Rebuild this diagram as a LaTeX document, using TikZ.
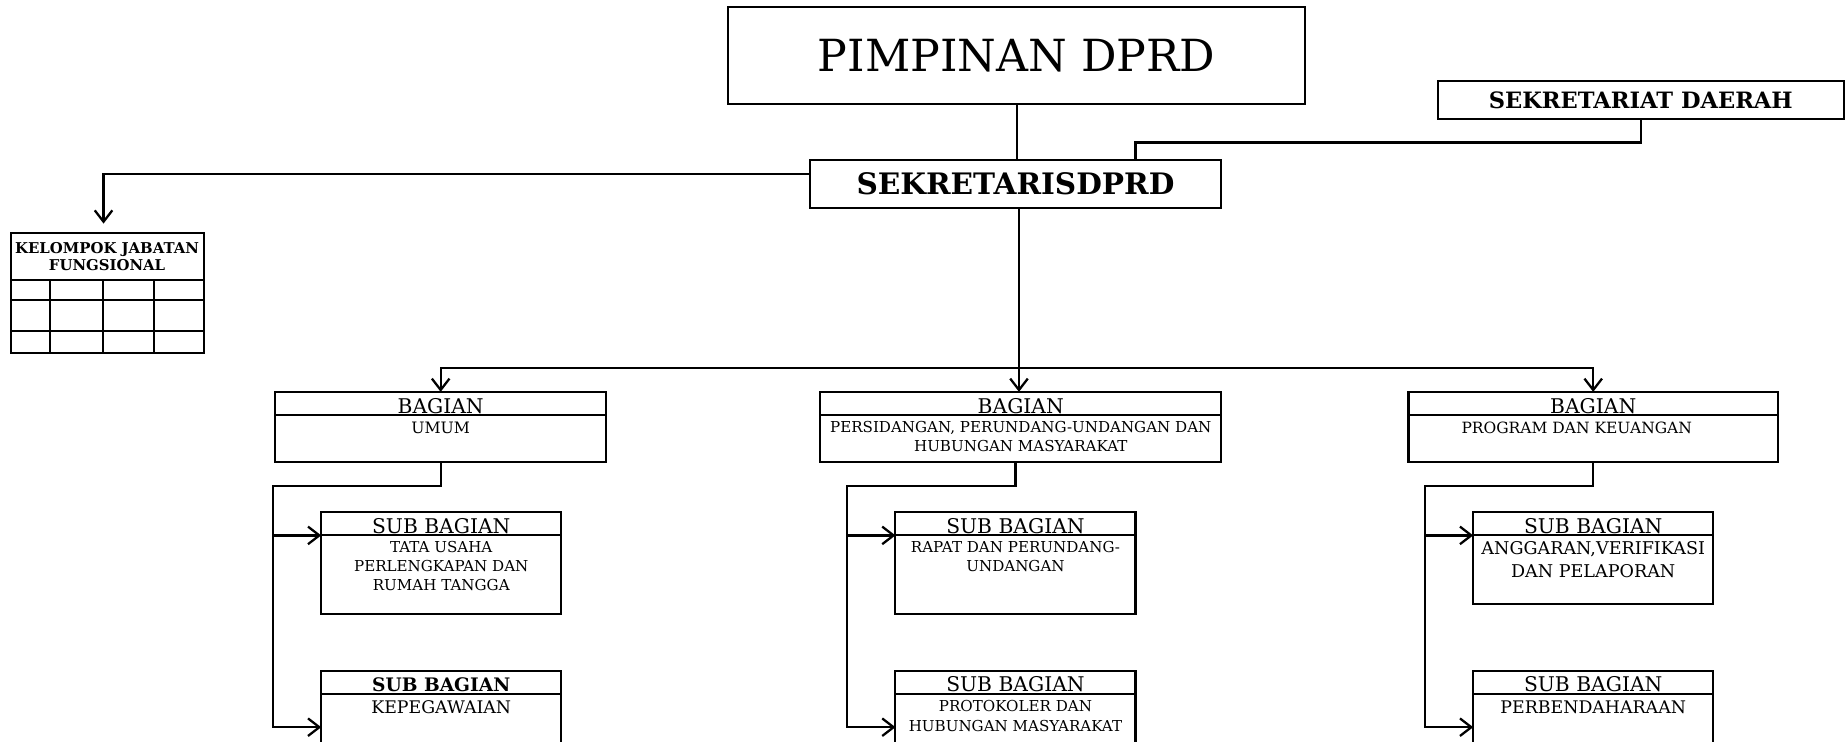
\documentclass[tikz,border=0pt]{standalone}
\usepackage{fontspec}
\setmainfont{DejaVu Serif}
\usetikzlibrary{arrows.meta,positioning}

\begin{document}
\begin{tikzpicture}[
        box/.style={draw, rectangle, line width=1pt, inner sep=0pt, outer sep=0pt},
        hdr/.style={box, minimum height=0.4cm, text height=0.32cm, text depth=0pt, font=\fontsize{9.8}{11}\selectfont},
        bodybox/.style={box, minimum height=#1},
        bodybox/.default=1.34cm,
        txt/.style={align=center, inner sep=0pt, font=\fontsize{7.3}{9.1}\selectfont},
        conn/.style={line width=1.1pt},
        arrow/.style={conn, -{Straight Barb[length=5.5pt,width=8.5pt]}}
    ]
        \useasboundingbox (0,0) rectangle (31.36,-12.6);
        \clip (0,0) rectangle (31.36,-12.6);

        % Pimpinan dan sekretariat
        \node[box, minimum width=9.8cm, minimum height=1.64cm, font=\fontsize{21.4}{24}\selectfont] (pimpinan) at (17.28,-0.94) {PIMPINAN DPRD};
        \node[box, minimum width=7cm, minimum height=0.82cm, font=\bfseries\fontsize{14.3}{16}\selectfont] (sekwan) at (17.26,-3.13) {SEKRETARISDPRD};
        \node[box, minimum width=6.9cm, minimum height=0.64cm, font=\bfseries\fontsize{10.9}{12}\selectfont] (setda) at (27.89,-1.70) {SEKRETARIAT DAERAH};

        % Kelompok jabatan fungsional
        \node[box, minimum width=3.28cm, minimum height=0.8cm, align=center, font=\bfseries\fontsize{7.2}{8.5}\selectfont] (jabfung) at (1.82,-4.36) {KELOMPOK JABATAN\\FUNGSIONAL};
        \draw[line width=1pt] (jabfung.south west) rectangle ++(3.28,-1.24);
        \foreach \y in {0.34,0.86}
            \draw[line width=1pt] (jabfung.south west) ++(0,-\y) -- ++(3.28,0);
        \foreach \x in {0.67,1.57,2.44}
            \draw[line width=1pt] (jabfung.south west) ++(\x,0) -- ++(0,-1.24);

        % Bagian
        \node[hdr, minimum width=5.62cm] (umum) at (7.49,-6.86) {BAGIAN};
        \node[bodybox=0.8cm, minimum width=5.62cm, below=0pt of umum] (umum-b) {};
        \node[txt, font=\fontsize{7.6}{9.1}\selectfont, below=0.1cm of umum-b.north] (umum-t) {UMUM};

        \node[hdr, minimum width=6.82cm] (persid) at (17.35,-6.86) {BAGIAN};
        \node[bodybox=0.8cm, minimum width=6.82cm, below=0pt of persid] (persid-b) {};
        \node[txt, below=0.1cm of persid-b.north] (persid-t) {PERSIDANGAN, PERUNDANG-UNDANGAN DAN\\HUBUNGAN MASYARAKAT};

        \node[hdr, minimum width=6.28cm] (program) at (27.08,-6.86) {BAGIAN};
        \node[bodybox=0.8cm, minimum width=6.28cm, below=0pt of program] (program-b) {};
        \node[txt, font=\fontsize{7.5}{9.1}\selectfont, below=0.1cm of program-b.north, xshift=-0.28cm] (program-t) {PROGRAM DAN KEUANGAN};

        % Sub bagian umum
        \node[hdr, minimum width=4.08cm] (tata) at (7.50,-8.90) {SUB BAGIAN};
        \node[bodybox, minimum width=4.08cm, below=0pt of tata] (tata-b) {};
        \node[txt, below=0.1cm of tata-b.north] (tata-t) {TATA USAHA\\PERLENGKAPAN DAN\\RUMAH TANGGA};

        \node[hdr, minimum width=4.08cm, font=\bfseries\fontsize{9}{11}\selectfont] (pegawai) at (7.50,-11.60) {SUB BAGIAN};
        \node[bodybox, minimum width=4.08cm, below=0pt of pegawai] (pegawai-b) {};
        \node[txt, font=\fontsize{8.4}{10}\selectfont, below=0.1cm of pegawai-b.north] (pegawai-t) {KEPEGAWAIAN};

        % Sub bagian persidangan
        \node[hdr, minimum width=4.08cm] (rapat) at (17.26,-8.90) {SUB BAGIAN};
        \node[bodybox, minimum width=4.08cm, below=0pt of rapat] (rapat-b) {};
        \node[txt, below=0.1cm of rapat-b.north] (rapat-t) {RAPAT DAN PERUNDANG-\\UNDANGAN};

        \node[hdr, minimum width=4.08cm] (protokol) at (17.26,-11.60) {SUB BAGIAN};
        \node[bodybox, minimum width=4.08cm, below=0pt of protokol] (protokol-b) {};
        \node[txt, font=\fontsize{7.3}{9.6}\selectfont, below=0.1cm of protokol-b.north] (protokol-t) {PROTOKOLER DAN\\HUBUNGAN MASYARAKAT};

        % Sub bagian program
        \node[hdr, minimum width=4.08cm] (anggaran) at (27.08,-8.90) {SUB BAGIAN};
        \node[bodybox=1.16cm, minimum width=4.08cm, below=0pt of anggaran] (anggaran-b) {};
        \node[txt, font=\fontsize{8.5}{10.8}\selectfont, below=0.1cm of anggaran-b.north] (anggaran-t) {ANGGARAN,VERIFIKASI\\DAN PELAPORAN};

        \node[hdr, minimum width=4.08cm] (bendahara) at (27.08,-11.60) {SUB BAGIAN};
        \node[bodybox, minimum width=4.08cm, below=0pt of bendahara] (bendahara-b) {};
        \node[txt, font=\fontsize{8.4}{10}\selectfont, below=0.1cm of bendahara-b.north] (bendahara-t) {PERBENDAHARAAN};

        % Garis komando
        \draw[conn] (pimpinan.south) -- (pimpinan.south |- sekwan.north);
        \draw[conn] (setda.south) -- ++(0,-0.4) -| ([xshift=2.04cm]sekwan.north);
        \draw[arrow] ([yshift=0.17cm]sekwan.west) -| ([xshift=-0.06cm,yshift=0.16cm]jabfung.north);
        \draw[arrow] ([xshift=0.06cm]sekwan.south) -- ([xshift=0.06cm]sekwan.south |- persid.north);
        \coordinate (bar) at (17.32,-6.26);
        \draw[arrow] (bar) -| (umum.north);
        \draw[arrow] (bar) -| (program.north);

        % Ke sub bagian
        \draw[arrow] (umum-b.south) -- ++(0,-0.4) -| ([xshift=-0.82cm,yshift=-0.56cm]pegawai-b.north west) -- ([yshift=-0.56cm]pegawai-b.north west);
        \draw[arrow] ([xshift=-0.82cm]tata-b.north west) -- (tata-b.north west);

        \draw[arrow] (rapat |- persid-b.south) -- ++(0,-0.4) -| ([xshift=-0.82cm,yshift=-0.56cm]protokol-b.north west) -- ([yshift=-0.56cm]protokol-b.north west);
        \draw[arrow] ([xshift=-0.82cm]rapat-b.north west) -- (rapat-b.north west);

        \draw[arrow] (program-b.south) -- ++(0,-0.4) -| ([xshift=-0.82cm,yshift=-0.56cm]bendahara-b.north west) -- ([yshift=-0.56cm]bendahara-b.north west);
        \draw[arrow] ([xshift=-0.82cm]anggaran-b.north west) -- (anggaran-b.north west);
    \end{tikzpicture}
\end{document}
